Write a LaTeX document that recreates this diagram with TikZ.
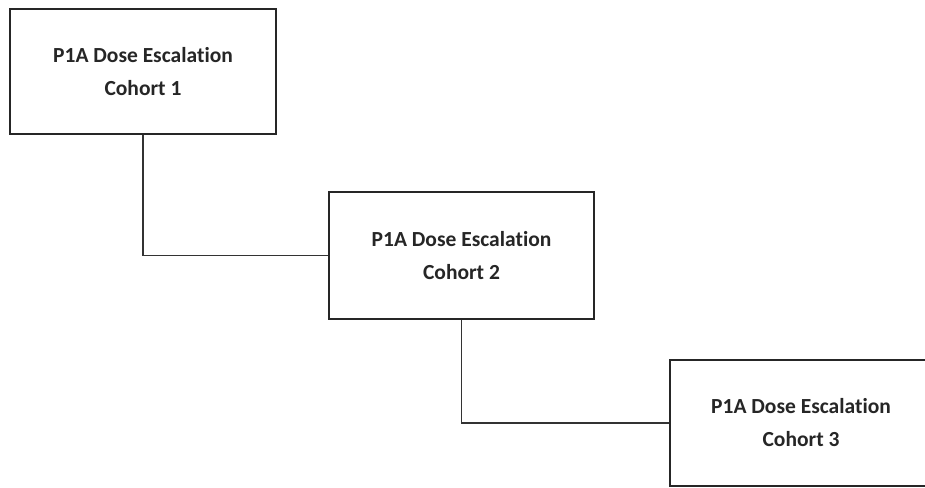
\documentclass[tikz,border=0pt]{standalone}
\usepackage{fontspec}
\setmainfont{Carlito}[Ligatures=NoCommon]
\begin{document}
\begin{tikzpicture}[x=1pt,y=-1pt,
  cohort/.style={draw=black!85, line width=1.6pt, fill=white, minimum width=#1, align=center,
    font=\bfseries\fontsize{21.5}{33}\selectfont, text=black!85, inner sep=0pt},
  link/.style={draw=black!80, line width=1.6pt}]
\useasboundingbox (0,0) rectangle (925,487);
\clip (0,0) rectangle (925,487);
\node[cohort=266pt, minimum height=125pt] (b1) at (143,71.5) {P1A Dose Escalation\\Cohort 1};
\node[cohort=265pt, minimum height=127pt] (b2) at (461.5,255.5) {P1A Dose Escalation\\Cohort 2};
\node[cohort=262pt, minimum height=126pt] (b3) at (801,423) {P1A Dose Escalation\\Cohort 3};
\draw[link] (b1.south) |- (b2.west);
\draw[link] (b2.south) |- (b3.west);
\end{tikzpicture}
\end{document}
